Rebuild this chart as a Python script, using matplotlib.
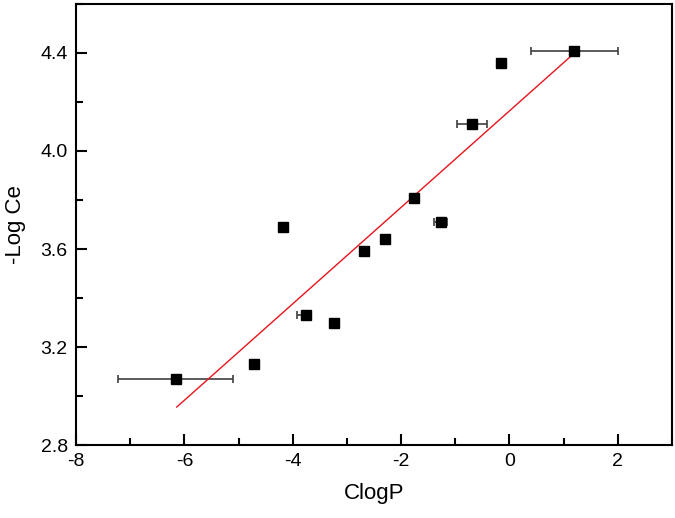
import numpy as np
import matplotlib
matplotlib.use('Agg')
import matplotlib.pyplot as plt
from matplotlib.ticker import MultipleLocator, FormatStrFormatter

plt.rcParams['font.family'] = ['Liberation Sans', 'DejaVu Sans']
plt.rcParams['axes.unicode_minus'] = False

clogp = [-6.16, -4.71, -4.18, -3.76, -3.23, -2.68, -2.29, -1.77, -1.27, -0.69, -0.15, 1.20]
log_ce = [3.07, 3.13, 3.69, 3.33, 3.30, 3.59, 3.64, 3.81, 3.71, 4.11, 4.36, 4.41]
# horizontal error (lower, upper); 0 = no bar
err_lo = [1.06, 0, 0, 0.17, 0, 0, 0, 0, 0.12, 0.27, 0, 0.80]
err_hi = [1.06, 0, 0, 0.05, 0, 0, 0, 0, 0.12, 0.27, 0, 0.80]

fit_x = [-6.14, 1.20]
fit_y = [2.955, 4.40]

fig = plt.figure(figsize=(6.75, 5.18), dpi=100)
ax = fig.add_axes([0.1126, 0.1409, 0.883, 0.8514])

x = np.array(clogp)
y = np.array(log_ce)
lo = np.array(err_lo)
hi = np.array(err_hi)
m = (lo > 0) | (hi > 0)

ax.errorbar(x[m], y[m], xerr=[lo[m], hi[m]], fmt='none', ecolor='#404040',
            elinewidth=1.2, capsize=3, capthick=1.2, zorder=2)
ax.plot(fit_x, fit_y, color='#e8141c', lw=1.0, zorder=3)
ax.plot(x, y, 's', color='black', markersize=7, zorder=4)

ax.set_xlim(-8, 3)
ax.set_ylim(2.8, 4.6)
ax.xaxis.set_major_locator(MultipleLocator(2))
ax.xaxis.set_minor_locator(MultipleLocator(1))
ax.yaxis.set_major_locator(MultipleLocator(0.4))
ax.yaxis.set_minor_locator(MultipleLocator(0.2))
ax.yaxis.set_major_formatter(FormatStrFormatter('%.1f'))

ax.tick_params(which='both', direction='in', top=False, right=False, width=1.5,
               labelsize=14)
ax.tick_params(which='major', length=8, pad=6)
ax.tick_params(which='minor', length=5)
for s in ax.spines.values():
    s.set_linewidth(1.5)

ax.set_xlabel('ClogP', fontsize=16, labelpad=9)
ax.set_ylabel('-Log Ce', fontsize=16, labelpad=10)

fig.savefig('out.png', dpi=100)
